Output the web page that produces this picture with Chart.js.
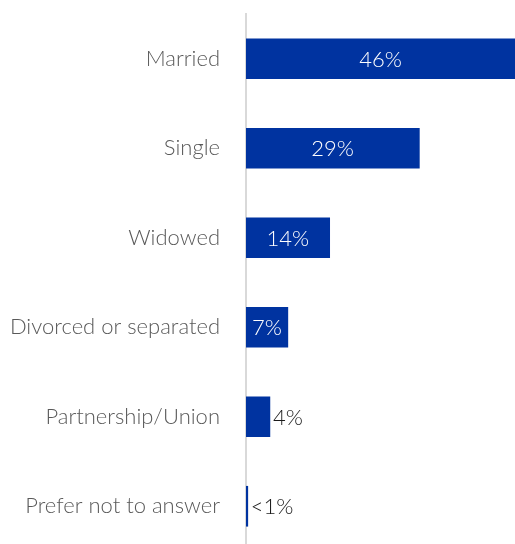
<!DOCTYPE html>
<html>
<head>
<meta charset="utf-8">
<script src="https://cdn.jsdelivr.net/npm/chart.js@4.4.1/dist/chart.umd.min.js"></script>
<style>
    html, body { margin: 0; padding: 0; background: #fff; overflow: hidden; }
    #wrap { width: 515px; height: 544px; overflow: hidden; }
</style>
</head>
<body>
<div id="wrap"><canvas id="statusChart" width="515" height="560"></canvas></div>
<script>
// Marital status shares (percent)
const categories = ['Married', 'Single', 'Widowed', 'Divorced or separated', 'Partnership/Union', 'Prefer not to answer'];
const shares = [46, 29, 14, 7, 4, 0.3];
const shareLabels = ['46%', '29%', '14%', '7%', '4%', '<1%'];

const FONT = "Lato, 'Open Sans', sans-serif";

// draws the % labels: inside the bar when it is wide enough, otherwise just after it
const barLabels = {
    id: 'barLabels',
    afterDatasetsDraw(chart) {
        const ctx = chart.ctx;
        const area = chart.chartArea;
        const meta = chart.getDatasetMeta(0);
        ctx.save();
        ctx.font = '300 22px ' + FONT;
        ctx.textBaseline = 'middle';
        meta.data.forEach(function(bar, i) {
            const end = Math.min(bar.x, area.right);
            const txt = shareLabels[i];
            if (end - bar.base > 35) {
                ctx.fillStyle = '#ffffff';
                ctx.textAlign = 'center';
                ctx.fillText(txt, (bar.base + end) / 2, bar.y + 1);
            } else {
                ctx.fillStyle = '#1a1a1a';
                ctx.textAlign = 'left';
                ctx.fillText(txt, end + 3, bar.y + 1);
            }
        });
        ctx.restore();
    }
};

const statusCtx = document.getElementById('statusChart');
new Chart(statusCtx.getContext('2d'), {
    type: 'bar',
    data: {
        labels: categories,
        datasets: [{
            data: shares,
            backgroundColor: '#0033a0',
            borderWidth: 0,
            barThickness: 40
        }]
    },
    options: {
        indexAxis: 'y',
        responsive: false,
        animation: false,
        layout: { padding: { top: 14, bottom: 9, left: 0, right: 0 } },
        plugins: {
            legend: { display: false },
            tooltip: { enabled: false }
        },
        scales: {
            x: {
                display: false,
                min: 0,
                max: 45
            },
            y: {
                grid: { display: false, drawTicks: false },
                border: { display: true, color: '#d9d9d9', width: 2 },
                ticks: {
                    color: '#595959',
                    padding: 26,
                    font: { family: FONT, size: 22, weight: '300' }
                },
                afterFit: function(scale) {
                    scale.width = 246;
                    scale.paddingTop = 0;
                    scale.paddingBottom = 0;
                }
            }
        }
    },
    plugins: [barLabels]
});
</script>
</body>
</html>
